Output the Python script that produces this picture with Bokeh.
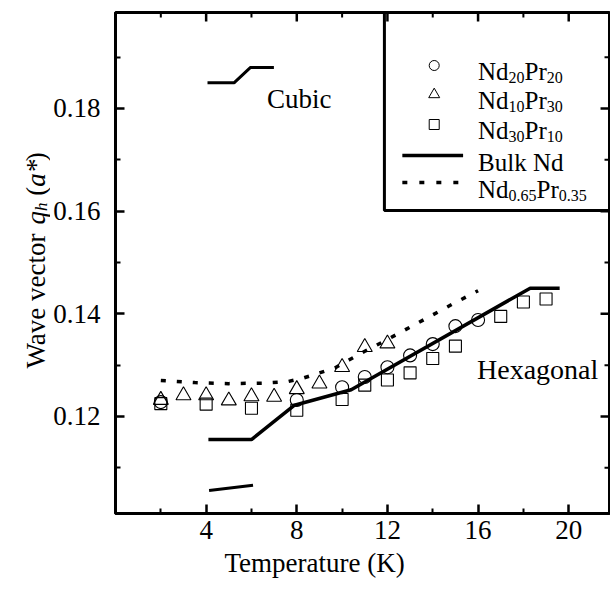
import numpy as np
from bokeh.plotting import figure
from bokeh.layouts import row
from bokeh.models import (FixedTicker, PrintfTickFormatter, BoxAnnotation,
                          ColumnDataSource, Title, Range1d)
from bokeh.core.properties import value, field
from bokeh.embed import file_html
from bokeh.resources import INLINE

# ---------------- data ----------------
t_nd20pr20 = [2, 8, 10, 11, 12, 13, 14, 15, 16]
q_nd20pr20 = [0.1228, 0.1232, 0.1257, 0.1277, 0.1296, 0.1319, 0.1341, 0.1376, 0.1388]

t_nd10pr30 = [2, 3, 4, 5, 6, 7, 8, 9, 10, 11, 12]
q_nd10pr30 = [0.1232, 0.1241, 0.1241, 0.1231, 0.1239, 0.1238, 0.1253, 0.1264, 0.1296, 0.1335, 0.1342]

t_nd30pr10 = [2, 4, 6, 8, 10, 11, 12, 13, 14, 15, 17, 18, 19]
q_nd30pr10 = [0.1225, 0.1224, 0.1216, 0.1212, 0.1233, 0.1261, 0.1271, 0.1285, 0.1313, 0.1337, 0.1395, 0.1423, 0.1429]

t_bulk_nd = [4.1, 6.0, 7.9, 10.4, 18.3, 19.6]
q_bulk_nd = [0.1155, 0.1155, 0.1222, 0.1252, 0.1450, 0.1450]

t_alloy = [2.0, 3.5, 5.0, 6.5, 7.6, 8.3, 9.0, 9.7, 10.3, 11.0, 12.0, 13.0, 14.0, 15.0, 16.0]
q_alloy = [0.1270, 0.1266, 0.1264, 0.1265, 0.1268, 0.1275, 0.1285, 0.1295, 0.1310, 0.1327,
           0.1350, 0.1374, 0.1398, 0.1422, 0.1445]

t_cubic_mark = [4.06, 5.23, 5.96, 6.99]
q_cubic_mark = [0.1850, 0.1850, 0.1880, 0.1880]
t_low_mark = [4.13, 6.07]
q_low_mark = [0.1056, 0.1066]

x_major = [4, 8, 12, 16, 20]
x_minor = [2, 6, 10, 14, 18]
y_major = [0.12, 0.14, 0.16, 0.18]
y_minor = [0.11, 0.13, 0.15, 0.17, 0.19]

legend_rows = [
    [("Nd", False), ("20", True), ("Pr", False), ("20", True)],
    [("Nd", False), ("10", True), ("Pr", False), ("30", True)],
    [("Nd", False), ("30", True), ("Pr", False), ("10", True)],
    [("Bulk Nd", False)],
    [("Nd", False), ("0.65", True), ("Pr", False), ("0.35", True)],
]

y_label_parts = [("Wave vector ", "normal", False), ("q", "italic", False),
                 ("h", "italic", True), (" (", "normal", False),
                 ("a*", "italic", False), (")", "normal", False)]
x_label = "Temperature (K)"

# ---------------- layout ----------------
W, H = 610, 594
LABW = 50                      # strip holding the rotated y label
FL, FR, FT, FB = 113, 609, 12, 513   # frame edges in page pixels
X0, X1 = 0.0, 21.8
Y0, Y1 = 0.1011, 0.1987
FONT = "Liberation Serif"
MAIN = 27
LEG = 25
SUB = 16


def dx(px):
    return X0 + (px - FL) / (FR - FL) * (X1 - X0)


def dy(py):
    return Y0 + (FB - py) / (FB - FT) * (Y1 - Y0)


XPP = (X1 - X0) / (FR - FL)
YPP = (Y1 - Y0) / (FB - FT)

TIMES = {"W": .944, "a": .444, "v": .5, "e": .444, " ": .25, "c": .444, "t": .278,
         "o": .5, "r": .333, "q": .5, "h": .5, "(": .333, ")": .333, "*": .5,
         "N": .722, "d": .5, "P": .556, ".": .25, "B": .667, "u": .5, "l": .278, "k": .5}


def tw(s, size):
    return sum(TIMES.get(c, 0.5) for c in s) * size


yr = Range1d(Y0, Y1)

p = figure(width=W - LABW, height=H, x_range=(X0, X1), y_range=yr,
           output_backend="svg", toolbar_location=None,
           min_border_left=FL - LABW, min_border_right=W - FR,
           min_border_top=FT, min_border_bottom=H - FB)
p.grid.visible = False
p.outline_line_color = "black"
p.outline_line_width = 3
p.background_fill_color = "white"
p.border_fill_color = "white"


def style_axis(ax):
    ax.axis_line_width = 3
    ax.axis_line_color = "black"
    ax.major_tick_in = 9
    ax.major_tick_out = 0
    ax.minor_tick_in = 5
    ax.minor_tick_out = 0
    ax.major_tick_line_width = 2.5
    ax.minor_tick_line_width = 2
    ax.major_tick_line_color = "black"
    ax.minor_tick_line_color = "black"
    ax.major_label_text_font = FONT
    ax.major_label_text_color = "black"
    ax.major_label_text_font_size = f"{MAIN}px"


xa = p.xaxis[0]
xa.ticker = FixedTicker(ticks=x_major, minor_ticks=x_minor)
style_axis(xa)
xa.major_label_standoff = 7

ya = p.yaxis[0]
ya.ticker = FixedTicker(ticks=y_major, minor_ticks=y_minor)
ya.formatter = PrintfTickFormatter(format="%.2f")
style_axis(ya)
ya.major_label_standoff = 15

p.add_layout(Title(text=x_label, align="left", offset=222 - FL, standoff=9,
                   text_font=FONT, text_font_size=f"{MAIN}px",
                   text_font_style="normal", text_color="black"), "below")

# ticks on the top and right frame edges
p.segment(x0=x_major, y0=[Y1] * len(x_major), x1=x_major,
          y1=[Y1 - 9 * YPP] * len(x_major), line_color="black", line_width=2.5)
p.segment(x0=x_minor, y0=[Y1] * len(x_minor), x1=x_minor,
          y1=[Y1 - 5 * YPP] * len(x_minor), line_color="black", line_width=2)
p.segment(x0=[X1] * len(y_major), y0=y_major, x1=[X1 - 9 * XPP] * len(y_major),
          y1=y_major, line_color="black", line_width=2.5)
p.segment(x0=[X1] * len(y_minor), y0=y_minor, x1=[X1 - 5 * XPP] * len(y_minor),
          y1=y_minor, line_color="black", line_width=2)

# ---------------- data marks ----------------
p.line(t_bulk_nd, q_bulk_nd, line_color="black", line_width=3.5)
p.line(t_alloy, q_alloy, line_color="black", line_width=3.5, line_dash="5 11")
p.line(t_cubic_mark, q_cubic_mark, line_color="black", line_width=3)
p.line(t_low_mark, q_low_mark, line_color="black", line_width=3)

p.scatter(t_nd20pr20, q_nd20pr20, marker="circle", size=13, fill_color=None,
          line_color="black", line_width=1.1)
p.scatter(t_nd10pr30, q_nd10pr30, marker="triangle", size=15, fill_color=None,
          line_color="black", line_width=1.1)
p.scatter(t_nd30pr10, q_nd30pr10, marker="square", size=12, fill_color=None,
          line_color="black", line_width=1.1)

p.text(x=[dx(265)], y=[dy(98)], text=["Cubic"], text_font=value(FONT),
       text_font_size=value(f"{MAIN}px"), text_baseline="alphabetic",
       text_align="left", text_color="black")
p.text(x=[dx(476)], y=[dy(369)], text=["Hexagonal"], text_font=value(FONT),
       text_font_size=value(f"{MAIN + 1}px"), text_baseline="alphabetic",
       text_align="left", text_color="black")

# ---------------- legend ----------------
p.add_layout(BoxAnnotation(left=dx(383), right=X1, bottom=dy(210), top=Y1,
                           fill_color=None, fill_alpha=0, line_color="black",
                           line_alpha=1.0, line_width=3, level="overlay"))

mk_x = dx(433)
p.scatter([mk_x], [dy(65)], marker="circle", size=10, fill_color=None, line_color="black")
p.scatter([mk_x], [dy(94)], marker="triangle", size=11, fill_color=None, line_color="black")
p.scatter([mk_x], [dy(124)], marker="square", size=10, fill_color=None, line_color="black")
p.line([dx(401), dx(462)], [dy(155), dy(155)], line_color="black", line_width=3.5)
p.line([dx(401), dx(462)], [dy(182), dy(182)], line_color="black", line_width=3.5,
       line_dash="5 12")

baselines = [71, 100, 130, 162, 189]
tx, ty, tt, txo, tyo, tfs = [], [], [], [], [], []
for parts, base in zip(legend_rows, baselines):
    off = 0.0
    for s, sub in parts:
        size = SUB if sub else LEG
        tx.append(dx(477))
        ty.append(dy(base))
        tt.append(s)
        txo.append(off)
        tyo.append(6 if sub else 0)
        tfs.append(f"{size}px")
        off += tw(s, size)
src = ColumnDataSource(dict(x=tx, y=ty, text=tt, xo=txo, yo=tyo, fs=tfs))
p.text(x="x", y="y", text="text", x_offset="xo", y_offset="yo",
       text_font_size=field("fs"), text_font=value(FONT), text_color="black",
       text_baseline="alphabetic", text_align="left", source=src)

# ---------------- rotated y label strip ----------------
lab = figure(width=LABW, height=H, x_range=(0, LABW), y_range=yr,
             output_backend="svg", toolbar_location=None,
             x_axis_location=None, y_axis_location=None,
             min_border_left=0, min_border_right=0,
             min_border_top=FT, min_border_bottom=H - FB)
lab.grid.visible = False
lab.outline_line_color = None
lab.background_fill_color = "white"
lab.border_fill_color = "white"

start_py = 368
base_px = 35
lx, ly, lt, lst, lfs = [], [], [], [], []
off = 0.0
for s, style, sub in y_label_parts:
    size = 17 if sub else MAIN
    lead = tw(s[:len(s) - len(s.lstrip())], size)
    lx.append(base_px + (6 if sub else 0))
    ly.append(dy(start_py - off - lead))
    lt.append(s.strip())
    lst.append(style)
    lfs.append(f"{size}px")
    off += tw(s, size)
lsrc = ColumnDataSource(dict(x=lx, y=ly, text=lt, st=lst, fs=lfs))
lab.text(x="x", y="y", text="text", angle=np.pi / 2, text_font=value(FONT),
         text_font_size=field("fs"), text_font_style=field("st"),
         text_color="black", text_align="left", text_baseline="alphabetic",
         source=lsrc)

layout = row(lab, p, spacing=0)
open("out.html", "w").write(file_html(layout, INLINE))
